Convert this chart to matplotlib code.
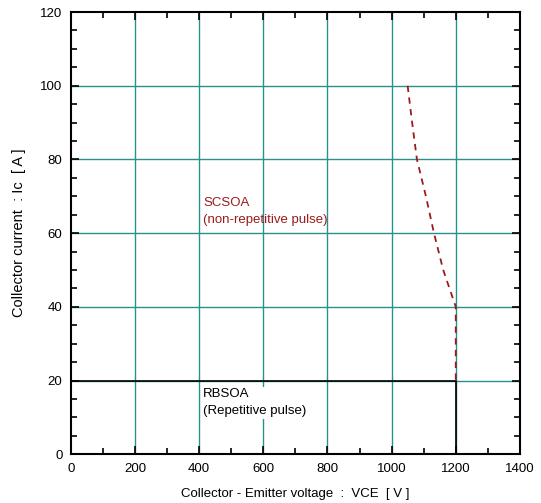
import matplotlib
matplotlib.use("Agg")
import matplotlib.pyplot as plt
from matplotlib.ticker import MultipleLocator

plt.rcParams['font.family'] = ['Liberation Sans', 'DejaVu Sans']

# RBSOA boundary (repetitive pulse)
rbsoa_v = [0, 1200, 1200]
rbsoa_i = [20, 20, 0]

# SCSOA boundary (non-repetitive pulse)
scsoa_v = [1050, 1064, 1079, 1107, 1132, 1161, 1200, 1200]
scsoa_i = [100, 90, 80, 70, 60, 50, 40, 20]

x_ticks = [0, 200, 400, 600, 800, 1000, 1200, 1400]
y_ticks = [0, 20, 40, 60, 80, 100, 120]

fig = plt.figure(figsize=(5.41, 5.03), dpi=100)
ax = fig.add_axes([0.131, 0.097, 0.830, 0.879])

grid_col = '#2a8f8f'
for v in x_ticks[1:-1]:
    ax.axvline(v, color=grid_col, lw=1.0, zorder=1)
for i in y_ticks[1:-1]:
    ax.axhline(i, color=grid_col, lw=1.0, zorder=1)

ax.plot(rbsoa_v, rbsoa_i, color='black', lw=1.2, zorder=3)
ax.plot(scsoa_v, scsoa_i, color='#9b1b1b', lw=1.3, ls=(0, (3.5, 3)), zorder=4)

ax.text(412, 66, "SCSOA\n(non-repetitive pulse)", color='#9b1b1b', fontsize=9.5,
        ha='left', va='center', linespacing=1.55, zorder=5)
ax.text(412, 14, "RBSOA\n(Repetitive pulse)", color='black', fontsize=9.5,
        ha='left', va='center', linespacing=1.55, zorder=5,
        bbox=dict(facecolor='white', edgecolor='none', pad=1))

ax.set_xlim(0, 1400)
ax.set_ylim(0, 120)
ax.set_xticks(x_ticks)
ax.set_yticks(y_ticks)
ax.xaxis.set_minor_locator(MultipleLocator(100))
ax.yaxis.set_minor_locator(MultipleLocator(5))
ax.tick_params(which='both', direction='in', top=True, right=True, width=1.2,
               labelsize=9.5, pad=6)
ax.tick_params(which='major', length=6)
ax.tick_params(which='minor', length=4)
for s in ax.spines.values():
    s.set_linewidth(1.5)

ax.set_xlabel("Collector - Emitter voltage  :  VCE  [ V ]", fontsize=9.5, labelpad=10)
ax.set_ylabel("Collector current  : Ic  [ A ]", fontsize=10.5, labelpad=10)

fig.savefig("out.png", dpi=100)
